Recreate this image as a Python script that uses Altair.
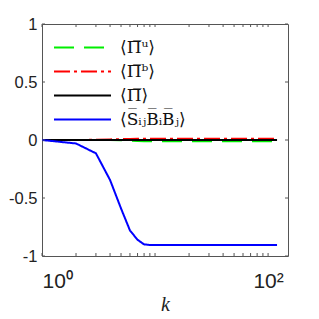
import altair as alt
import pandas as pd

# ---- data ----
k = [1, 2, 3, 4, 5, 6, 7, 8, 9, 10, 15, 20, 30, 40, 60, 80, 100, 120]
pi_u = [0, 0, 0, 0, -0.002, -0.005, -0.008, -0.01, -0.01, -0.01, -0.01, -0.01, -0.01, -0.01, -0.01, -0.01, -0.01, -0.01]
pi_b = [0, 0, 0.002, 0.005, 0.008, 0.009, 0.01, 0.01, 0.01, 0.01, 0.01, 0.01, 0.01, 0.01, 0.01, 0.01, 0.01, 0.01]
pi_tot = [0] * 18
sbb = [0, -0.03, -0.115, -0.345, -0.59, -0.78, -0.86, -0.9, -0.905, -0.905, -0.905, -0.905, -0.905, -0.905, -0.905, -0.905, -0.905, -0.905]

names = ["⟨Π̅ᵘ⟩", "⟨Π̅ᵇ⟩", "⟨Π̅⟩", "⟨S̅ᵢⱼB̅ᵢB̅ⱼ⟩"]
colors = ["#00ee00", "#ff0000", "#000000", "#0000ff"]
dashes = [[20, 10], [16, 4, 3, 4], [1, 0], [1, 0]]

y_ticks = [-1, -0.5, 0, 0.5, 1]
x_ticks = [1, 2, 3, 4, 5, 6, 7, 8, 9, 10, 20, 30, 40, 50, 60, 70, 80, 90, 100]
x_labels = [1, 100]

rows = []
for name, ys in zip(names, [pi_u, pi_b, pi_tot, sbb]):
    for kk, v in zip(k, ys):
        rows.append({"k": kk, "val": v, "series": name})
df = pd.DataFrame(rows)
xt = pd.DataFrame({"k": x_ticks})
yt = pd.DataFrame({"val": y_ticks})

W, H = 246, 232
frame = "#555555"

xscale = alt.Scale(type="log", domain=[1, 150], nice=False)
yscale = alt.Scale(domain=[-1, 1], nice=False)
xaxis = alt.Axis(values=x_labels, labelExpr="datum.value == 1 ? '10⁰' : '10²'",
                 tickSize=0, domain=False, grid=False, labelFont="Liberation Sans",
                 labelFontSize=21, labelColor="#222222", labelPadding=14,
                 title="k", titleFont="Liberation Serif", titleFontStyle="italic",
                 titleFontWeight="normal", titleFontSize=20, titleColor="#222222", titlePadding=3)
yaxis = alt.Axis(values=y_ticks, labelExpr="'' + datum.value", tickSize=0, domain=False, grid=False,
                 labelFont="Liberation Sans", labelFontSize=16.5, labelColor="#222222",
                 labelPadding=5, title=None)

X = alt.X("k:Q", scale=xscale, axis=xaxis)
Y = alt.Y("val:Q", scale=yscale, axis=yaxis)

leg = alt.Legend(title=None, orient="none", legendX=30, legendY=13, symbolType="M-3,0H3",
                 symbolSize=361, symbolStrokeWidth=2, labelFont="DejaVu Serif",
                 labelFontSize=17, labelColor="#111111", labelOffset=27, rowPadding=5,
                 padding=0, labelLimit=200)

lines = alt.Chart(df).mark_line(strokeWidth=2, clip=True).encode(
    x=X, y=Y,
    color=alt.Color("series:N", scale=alt.Scale(domain=names, range=colors), legend=leg),
    strokeDash=alt.StrokeDash("series:N", scale=alt.Scale(domain=names, range=dashes), legend=leg),
    order=alt.Order("k:Q"),
)

tick_l = alt.Chart(yt).mark_rule(color=frame).encode(y=Y, x=alt.value(0), x2=alt.value(3))
tick_r = alt.Chart(yt).mark_rule(color=frame).encode(y=Y, x=alt.value(W), x2=alt.value(W - 3))
tick_b = alt.Chart(xt).mark_rule(color=frame).encode(x=X, y=alt.value(H), y2=alt.value(H - 3))
tick_t = alt.Chart(xt).mark_rule(color=frame).encode(x=X, y=alt.value(0), y2=alt.value(3))

chart = alt.layer(lines, tick_l, tick_r, tick_b, tick_t).properties(
    width=W, height=H,
    autosize=alt.AutoSizeParams(type="none"),
    padding={"left": 34, "top": 16, "right": 20, "bottom": 58},
    background="white",
).configure_view(stroke=frame, strokeWidth=1)

chart.save("out.html", embed_options={"renderer": "svg", "actions": False})
